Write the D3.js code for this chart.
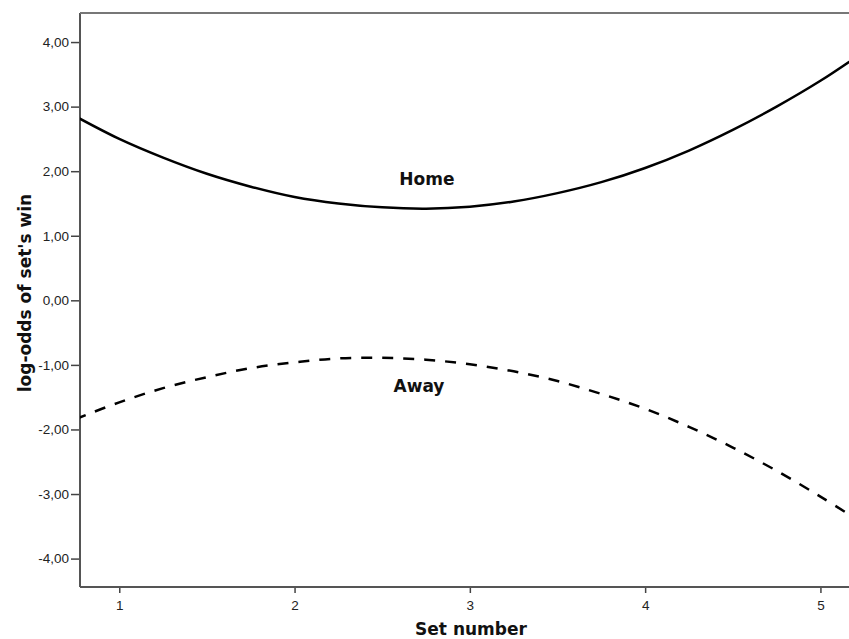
<!DOCTYPE html>
<html>
<head>
<meta charset="utf-8">
<script src="https://cdn.jsdelivr.net/npm/d3@7"></script>
<style>
  body { margin: 0; background: #fff; }
  .tick text { font-family: "Liberation Sans", Arial, sans-serif; font-size: 13.5px; fill: #222; }
  .title { font-family: "DejaVu Sans", sans-serif; font-weight: bold; font-size: 17px; fill: #111; }
</style>
</head>
<body>
<svg id="chart" width="849" height="639"></svg>
<script>
// set number (x) and fitted log-odds
var setNumber = [0.75, 1, 1.25, 1.5, 1.75, 2, 2.25, 2.5, 2.75, 3, 3.25, 3.5, 3.75, 4, 4.25, 4.5, 4.75, 5, 5.2]
var homeLogOdds = [2.85, 2.50, 2.21, 1.96, 1.76, 1.60, 1.50, 1.44, 1.42, 1.45, 1.53, 1.66, 1.83, 2.05, 2.32, 2.64, 3.00, 3.40, 3.76]
var awayLogOdds = [-1.84, -1.58, -1.36, -1.19, -1.05, -0.96, -0.90, -0.89, -0.92, -0.99, -1.10, -1.25, -1.45, -1.68, -1.96, -2.28, -2.64, -3.04, -3.38]

var xTicks = [1, 2, 3, 4, 5]
var yTicks = [-4, -3, -2, -1, 0, 1, 2, 3, 4]

// curve labels, in data units
var curveLabels = [
  { text: "Home", x: 2.755, y: 1.785 },
  { text: "Away", x: 2.71, y: -1.42 }
]

var svg = d3.select("#chart")
var margin = { left: 80, top: 13, right: 0, bottom: 52 }
var width = 849 - margin.left - margin.right
var height = 639 - margin.top - margin.bottom

var x = d3.scaleLinear().domain([0.776, 5.163]).range([0, width])
var y = d3.scaleLinear().domain([-4.44, 4.45]).range([height, 0])

var g = svg.append("g").attr("transform", "translate(" + margin.left + "," + margin.top + ")")

g.append("clipPath").attr("id", "plotclip")
  .append("rect").attr("width", width).attr("height", height)

// axes
var yAxis = g.append("g")
  .call(d3.axisLeft(y).tickValues(yTicks).tickSize(9).tickPadding(2)
    .tickFormat(function (d) { return d3.format(".2f")(d).replace(".", ",").replace("−", "-") }))
var xAxis = g.append("g")
  .attr("transform", "translate(0," + height + ")")
  .call(d3.axisBottom(x).tickValues(xTicks).tickSize(6).tickPadding(7).tickFormat(d3.format("d")))

yAxis.select(".domain").remove()
xAxis.select(".domain").remove()
g.selectAll(".tick line").attr("stroke", "#444").attr("stroke-width", 1.5)

// frame: left, bottom and top lines (right edge runs off the picture)
g.append("line").attr("x1", 0).attr("x2", 0).attr("y1", 0).attr("y2", height)
  .attr("stroke", "#555").attr("stroke-width", 2)
g.append("line").attr("x1", 0).attr("x2", width).attr("y1", height).attr("y2", height)
  .attr("stroke", "#555").attr("stroke-width", 2)
g.append("line").attr("x1", 0).attr("x2", width).attr("y1", 0).attr("y2", 0)
  .attr("stroke", "#777").attr("stroke-width", 2)

var line = d3.line()
  .x(function (d) { return x(d[0]) })
  .y(function (d) { return y(d[1]) })
  .curve(d3.curveCatmullRom)

var plot = g.append("g").attr("clip-path", "url(#plotclip)")

plot.append("path")
  .datum(d3.zip(setNumber, homeLogOdds))
  .attr("d", line)
  .attr("fill", "none")
  .attr("stroke", "#000")
  .attr("stroke-width", 2.5)

plot.append("path")
  .datum(d3.zip(setNumber, awayLogOdds))
  .attr("d", line)
  .attr("fill", "none")
  .attr("stroke", "#000")
  .attr("stroke-width", 2.5)
  .attr("stroke-dasharray", "11,10")

g.selectAll(".curve-label")
  .data(curveLabels)
  .enter()
  .append("text")
  .attr("class", "title curve-label")
  .attr("x", function (d) { return x(d.x) })
  .attr("y", function (d) { return y(d.y) })
  .attr("text-anchor", "middle")
  .text(function (d) { return d.text })

// axis titles
svg.append("text")
  .attr("class", "title")
  .attr("x", 471)
  .attr("y", 635)
  .attr("text-anchor", "middle")
  .text("Set number")

svg.append("text")
  .attr("class", "title")
  .attr("transform", "translate(31,293) rotate(-90)")
  .attr("text-anchor", "middle")
  .text("log-odds of set's win")
</script>
</body>
</html>
